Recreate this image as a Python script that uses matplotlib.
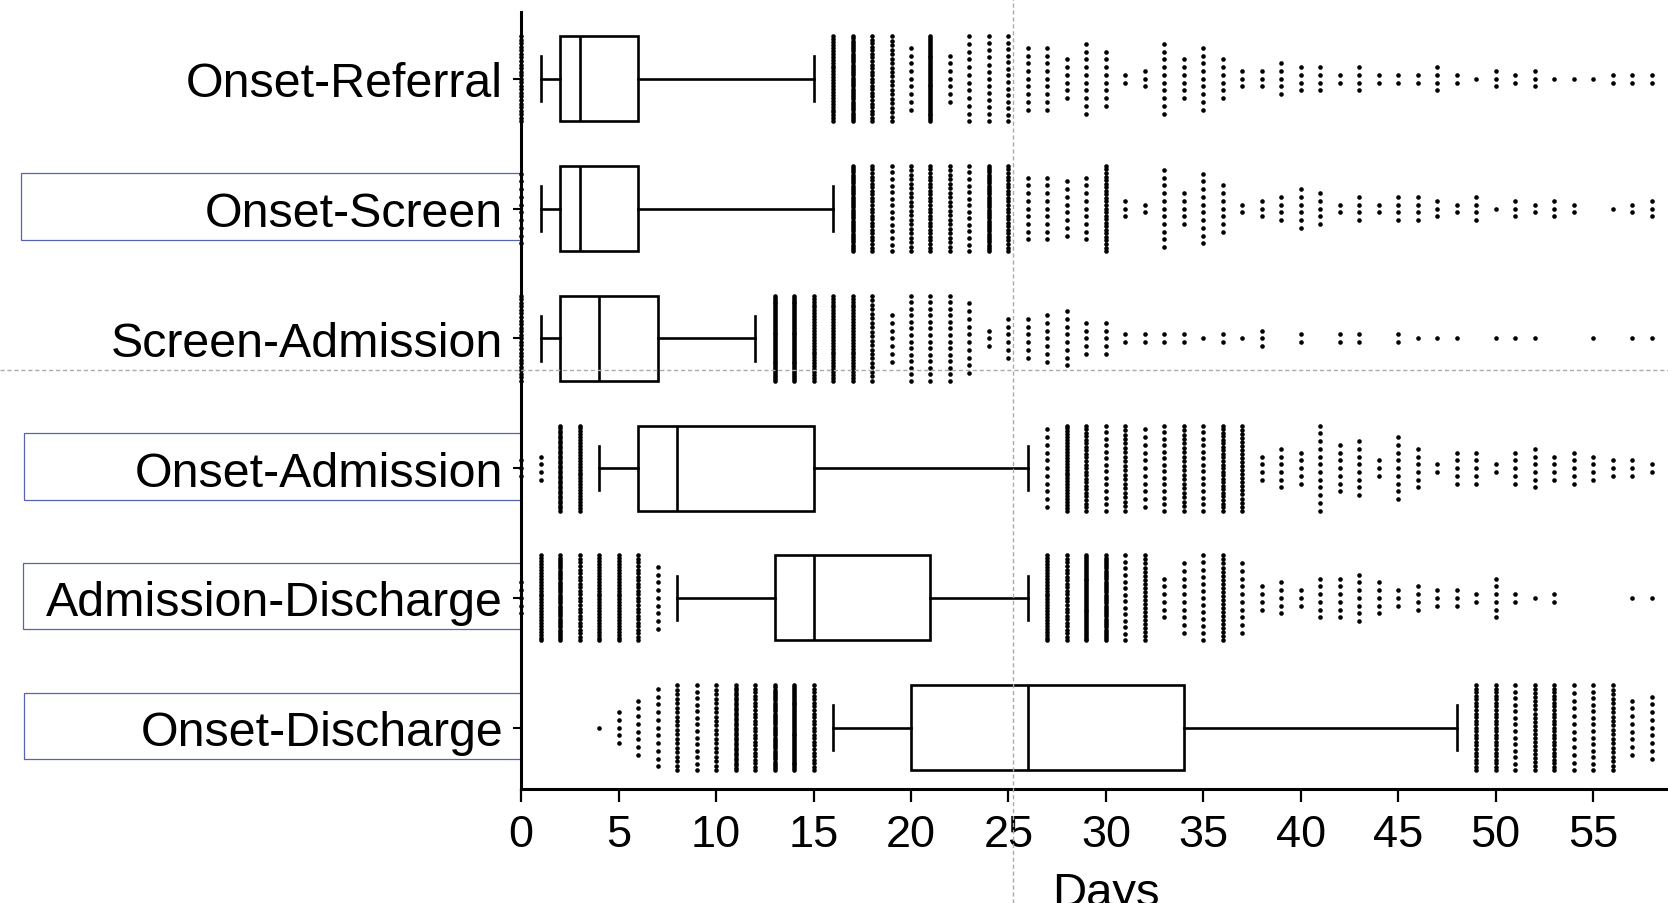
import matplotlib
matplotlib.use("Agg")
import matplotlib.pyplot as plt
import numpy as np
from matplotlib.patches import Rectangle
from matplotlib.transforms import blended_transform_factory

plt.rcParams["font.family"] = ["Liberation Sans", "DejaVu Sans"]

# categories (top to bottom)
labels = ["Onset-Referral", "Onset-Screen", "Screen-Admission",
          "Onset-Admission", "Admission-Discharge", "Onset-Discharge"]

# box statistics, days
whislo = [1, 1, 1, 4, 8, 16]
q1 = [2, 2, 2, 6, 13, 20]
med = [3, 3, 4, 8, 15, 26]
q3 = [6, 6, 7, 15, 21, 34]
whishi = [15, 16, 12, 26, 26, 48]

# points outside the whiskers: day value and number of patients at that day
referral_days = [0, 16, 17, 18, 19, 20, 21, 22, 23, 24, 25, 26, 27, 28, 29, 30, 31, 32, 33, 34, 35, 36,
                 37, 38, 39, 40, 41, 42, 43, 44, 45, 46, 47, 48, 49, 50, 51, 52, 53, 54, 55, 56, 57, 58]
referral_counts = [25, 30, 40, 25, 20, 9, 45, 7, 12, 13, 14, 9, 9, 6, 10, 8, 2, 3, 10, 6, 9, 6,
                   3, 3, 5, 4, 4, 2, 4, 2, 2, 2, 4, 2, 1, 3, 2, 3, 1, 1, 1, 2, 2, 2]

screen_days = [0, 17, 18, 19, 20, 21, 22, 23, 24, 25, 26, 27, 28, 29, 30, 31, 32, 33, 34, 35, 36, 37,
               38, 39, 40, 41, 42, 43, 44, 45, 46, 47, 48, 49, 50, 51, 52, 53, 54, 56, 57, 58]
screen_counts = [10, 40, 25, 14, 20, 25, 20, 14, 40, 25, 9, 9, 8, 9, 25, 3, 2, 11, 5, 10, 7, 2,
                 3, 4, 6, 5, 2, 4, 2, 4, 4, 3, 2, 4, 1, 3, 2, 3, 2, 1, 2, 3]

scr_adm_days = [0, 13, 14, 15, 16, 17, 18, 19, 20, 21, 22, 23, 24, 25, 26, 27, 28, 29, 30, 31, 32,
                33, 34, 35, 36, 37, 38, 40, 42, 43, 45, 46, 47, 48, 50, 51, 52, 55, 57, 58]
scr_adm_counts = [25, 45, 45, 30, 30, 30, 20, 7, 14, 14, 14, 10, 3, 6, 6, 7, 8, 5, 5, 2, 2,
                  2, 2, 1, 2, 1, 3, 2, 2, 2, 2, 1, 1, 1, 1, 1, 1, 1, 1, 1]

ons_adm_days = [0, 1, 2, 3, 27, 28, 29, 30, 31, 32, 33, 34, 35, 36, 37, 38, 39, 40, 41, 42, 43,
                44, 45, 46, 47, 48, 49, 50, 51, 52, 53, 54, 55, 56, 57, 58]
ons_adm_counts = [3, 4, 35, 30, 11, 30, 25, 14, 20, 11, 14, 20, 14, 25, 22, 4, 6, 5, 12, 7, 8,
                  3, 9, 6, 2, 5, 5, 2, 5, 6, 4, 5, 4, 3, 3, 2]

adm_dis_days = [0, 1, 2, 3, 4, 5, 6, 7, 27, 28, 29, 30, 31, 32, 33, 34, 35, 36, 37, 38, 39, 40,
                41, 42, 43, 44, 45, 46, 47, 48, 49, 50, 51, 52, 53, 57, 58]
adm_dis_counts = [5, 30, 40, 25, 30, 30, 25, 9, 30, 25, 45, 40, 14, 22, 6, 10, 13, 22, 10, 4, 5, 3,
                  6, 6, 7, 5, 3, 4, 3, 3, 2, 6, 2, 1, 2, 1, 1]

ons_dis_days = [4, 5, 6, 7, 8, 9, 10, 11, 12, 13, 14, 15, 49, 50, 51, 52, 53, 54, 55, 56, 57, 58]
ons_dis_counts = [1, 5, 8, 11, 20, 14, 20, 35, 25, 40, 45, 25, 25, 25, 14, 22, 25, 12, 14, 20, 8, 9]

out_days = [referral_days, screen_days, scr_adm_days, ons_adm_days, adm_dis_days, ons_dis_days]
out_counts = [referral_counts, screen_counts, scr_adm_counts, ons_adm_counts, adm_dis_counts, ons_dis_counts]

xticks = [0, 5, 10, 15, 20, 25, 30, 35, 40, 45, 50, 55, 60]

fig = plt.figure(figsize=(16.68, 9.04), dpi=100)
ax = fig.add_axes([0.3125, 0.1257, 0.7010, 0.8602])

box_w = 0.656
pos = list(range(len(labels)))
stats = [dict(whislo=a, q1=b, med=c, q3=d, whishi=e)
         for a, b, c, d, e in zip(whislo, q1, med, q3, whishi)]
lw = 1.9
kw = dict(positions=pos, widths=box_w, showfliers=False, capwidths=0.344, patch_artist=True,
          boxprops=dict(facecolor="white", edgecolor="black", linewidth=lw),
          medianprops=dict(color="black", linewidth=lw),
          whiskerprops=dict(color="black", linewidth=lw),
          capprops=dict(color="black", linewidth=lw))
try:
    ax.bxp(stats, orientation="horizontal", **kw)
except TypeError:
    ax.bxp(stats, vert=False, **kw)

# stacked dots, one column per day; crowded columns squeezed into the box height
step = box_w / 11
xs, ys = [], []
for row, (days, counts) in enumerate(zip(out_days, out_counts)):
    for d, n in zip(days, counts):
        span = min((n - 1) * step, box_w)
        xs.extend([d] * n)
        ys.extend(row + np.linspace(-span / 2, span / 2, n))
ax.plot(xs, ys, "o", ms=3.3, color="black", mec="none", clip_on=False, zorder=4)

ax.set_xlim(0, 60)
ax.set_ylim(5.475, -0.516)
ax.set_xticks(xticks)
ax.set_yticks(pos, labels)
ax.spines[["top", "right"]].set_visible(False)
ax.spines[["left", "bottom"]].set_linewidth(2.2)
ax.tick_params(axis="x", length=9, width=1.6, labelsize=32.5, pad=9)
ax.tick_params(axis="y", length=6, width=1.5, labelsize=34.8, pad=7)
ax.set_xlabel("Days", fontsize=34, labelpad=11)

# screenshot overlays: label selection boxes and cursor crosshair
tr_h = blended_transform_factory(fig.transFigure, ax.transData)
tr_v = blended_transform_factory(ax.transData, fig.transFigure)
sel_rows = [1, 3, 4, 5]
sel_left_px = [21, 24, 23, 24]
axis_left = 0.3125
for r, px in zip(sel_rows, sel_left_px):
    x0 = px / 1668
    ax.add_patch(Rectangle((x0, r - 0.27), axis_left - x0, 0.512, transform=tr_h, fill=False,
                           edgecolor="#5563b0", linewidth=0.9, clip_on=False, zorder=1))
ax.plot([0, 1], [2.246, 2.246], transform=tr_h, ls=(0, (3, 2)), color="#ababab", lw=1.0,
        clip_on=False, zorder=6)
ax.plot([25.22, 25.22], [0, 1], transform=tr_v, ls=(0, (3, 2)), color="#ababab", lw=1.0,
        clip_on=False, zorder=6)

fig.savefig("out.png", dpi=100)
